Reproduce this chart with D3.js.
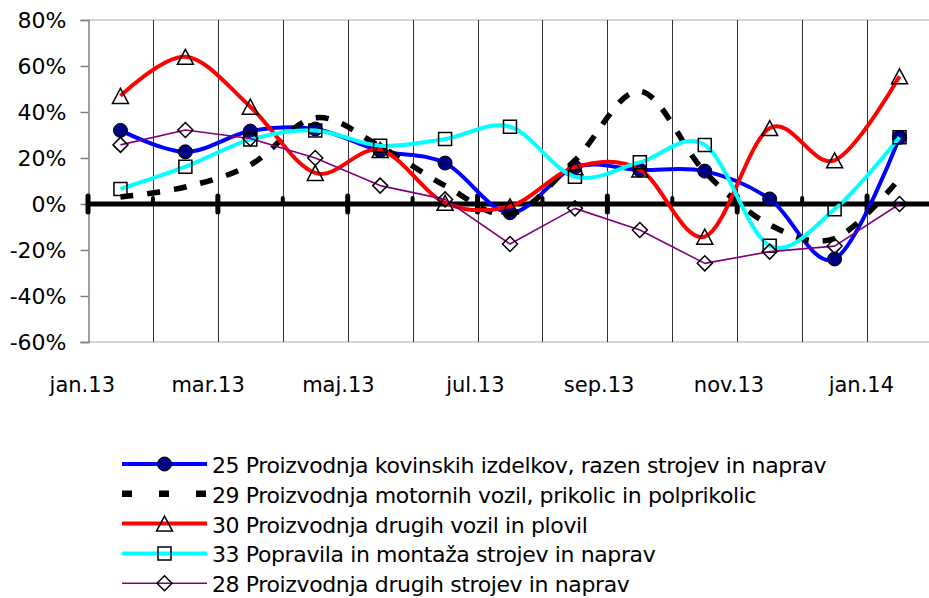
<!DOCTYPE html>
<html lang="sl">
<head>
<meta charset="UTF-8">
<title>Proizvodnja - rast</title>
<script src="https://cdn.jsdelivr.net/npm/d3@7"></script>
<style>
  body { margin: 0; background: #fff; }
  svg { display: block; font-family: "DejaVu Sans", Verdana, sans-serif; }
</style>
</head>
<body>
<script>
// months on the category axis
const months = ['jan.13', 'feb.13', 'mar.13', 'apr.13', 'maj.13', 'jun.13', 'jul.13',
    'avg.13', 'sep.13', 'okt.13', 'nov.13', 'dec.13', 'jan.14']
const monthLabels = ['jan.13', 'mar.13', 'maj.13', 'jul.13', 'sep.13', 'nov.13', 'jan.14']
const yTicks = [-60, -40, -20, 0, 20, 40, 60, 80]

// values in %
const s25 = [32, 22.7, 31.7, 32.6, 23.2, 17.8, -3.8, 16, 14.8, 14.3, 2.2, -23.9, 29]
const s29 = [3, 7.4, 17, 37.5, 25, 8, -4.5, 19, 49, 14, -9, -15, 11]
const s30 = [47, 64, 42.3, 13.5, 23.5, 0.5, -1, 16, 15, -14.2, 33, 19, 55.5]
const s33 = [6.5, 16.2, 28, 32, 25.3, 28.3, 33.6, 11.9, 18.1, 25.7, -18.1, -2.3, 29]
const s28 = [25.7, 32.2, 28.5, 20, 8, 2, -17.4, -1.9, -11.3, -25.8, -20.7, -18.3, 0]

const seriesNames = [
    '25 Proizvodnja kovinskih izdelkov, razen strojev in naprav',
    '29 Proizvodnja motornih vozil, prikolic in polprikolic',
    '30 Proizvodnja drugih vozil in plovil',
    '33 Popravila in montaža strojev in naprav',
    '28 Proizvodnja drugih strojev in naprav'
]

const width = 929
const height = 598

const series = [
    { name: seriesNames[0], values: s25, color: '#0000ff', w: 4, smooth: true, marker: 'circle' },
    { name: seriesNames[1], values: s29, color: '#000000', w: 5.5, smooth: true, dash: '13,14', legendDash: '10,27' },
    { name: seriesNames[2], values: s30, color: '#ff0000', w: 4, smooth: true, marker: 'triangle' },
    { name: seriesNames[3], values: s33, color: '#00ffff', w: 4, smooth: true, marker: 'square' },
    { name: seriesNames[4], values: s28, color: '#800080', w: 1.6, smooth: false, marker: 'diamond' }
]

const svg = d3.select('body').append('svg')
    .attr('width', width)
    .attr('height', height)

const x = d3.scaleBand()
    .domain(months)
    .range([88, 932])

const y = d3.scaleLinear()
    .domain([-60, 80])
    .range([342, 20])

// plot frame (top and bottom)
svg.append('line')
    .attr('x1', 88).attr('x2', width)
    .attr('y1', y(80)).attr('y2', y(80))
    .attr('stroke', '#c8c8c8').attr('stroke-width', 1.5)
svg.append('line')
    .attr('x1', 88).attr('x2', width)
    .attr('y1', y(-60)).attr('y2', y(-60))
    .attr('stroke', '#c8c8c8').attr('stroke-width', 1.5)

// vertical grid lines between months
svg.append('g')
    .selectAll('line')
    .data(months.slice(1))
    .enter()
    .append('line')
    .attr('x1', d => Math.round(x(d)) + 0.5)
    .attr('x2', d => Math.round(x(d)) + 0.5)
    .attr('y1', y(80))
    .attr('y2', y(-60))
    .attr('stroke', '#303030')
    .attr('stroke-width', 1)

// y axis
const yAxis = d3.axisLeft(y)
    .tickValues(yTicks)
    .tickFormat(d => d + '%')
    .tickSize(8)
    .tickPadding(14)

const yG = svg.append('g')
    .attr('transform', 'translate(88.5,0)')
    .call(yAxis)
yG.select('.domain').attr('stroke', '#808080').attr('stroke-width', 1.5)
yG.selectAll('.tick line').attr('stroke', '#808080').attr('stroke-width', 1.5)
yG.selectAll('.tick text')
    .attr('font-size', 22)
    .attr('font-family', '"DejaVu Sans", Verdana, sans-serif')
    .attr('fill', '#000')
    .attr('dy', '0.36em')

// zero line with tick marks
svg.append('line')
    .attr('x1', 88).attr('x2', width)
    .attr('y1', y(0)).attr('y2', y(0))
    .attr('stroke', '#000').attr('stroke-width', 5)

svg.append('g')
    .selectAll('line')
    .data(months)
    .enter()
    .append('line')
    .attr('x1', d => x(d))
    .attr('x2', d => x(d))
    .attr('y1', (d, i) => i % 2 === 0 ? y(0) - 8 : y(0) - 6)
    .attr('y2', (d, i) => i % 2 === 0 ? y(0) + 8 : y(0))
    .attr('stroke', '#000')
    .attr('stroke-width', (d, i) => i % 2 === 0 ? 5 : 4)
    .attr('stroke-linecap', 'round')

// month labels sit on every second grid line
svg.append('g')
    .selectAll('text')
    .data(monthLabels)
    .enter()
    .append('text')
    .attr('x', d => x(d) + 27)
    .attr('y', 392)
    .attr('text-anchor', 'end')
    .attr('font-size', 21)
    .text(d => d)

const cx = (d, i) => x(months[i]) + x.bandwidth() / 2

const markerPath = {
    triangle: 'M0,-7.5L8,7.5L-8,7.5Z',
    square: 'M-6.5,-6.5H6.5V6.5H-6.5Z',
    diamond: 'M0,-7.5L7.5,0L0,7.5L-7.5,0Z'
}

function drawMarker(g, type, px, py) {
    if (type === 'circle') {
        g.append('circle')
            .attr('cx', px).attr('cy', py).attr('r', 7)
            .attr('fill', '#000080').attr('stroke', '#000').attr('stroke-width', 1)
    } else {
        g.append('path')
            .attr('d', markerPath[type])
            .attr('transform', `translate(${px},${py})`)
            .attr('fill', 'none').attr('stroke', '#000').attr('stroke-width', 1.5)
    }
}

series.forEach(s => {
    const line = d3.line()
        .x(cx)
        .y(d => y(d))
        .curve(s.smooth ? d3.curveCardinal.tension(0) : d3.curveLinear)

    const g = svg.append('g')
    g.append('path')
        .datum(s.values)
        .attr('d', line)
        .attr('fill', 'none')
        .attr('stroke', s.color)
        .attr('stroke-width', s.w)
        .attr('stroke-dasharray', s.dash || null)
        .attr('stroke-linejoin', 'round')

    if (s.marker) {
        s.values.forEach((v, i) => drawMarker(g, s.marker, cx(v, i), y(v)))
    }
})

// legend
const legend = svg.append('g')
series.forEach((s, i) => {
    const ly = 464 + i * 29.8
    legend.append('line')
        .attr('x1', 122).attr('x2', 207)
        .attr('y1', ly).attr('y2', ly)
        .attr('stroke', s.color)
        .attr('stroke-width', s.legendDash ? 6.5 : s.w)
        .attr('stroke-dasharray', s.legendDash || null)
    if (s.marker) drawMarker(legend, s.marker, 164.5, ly)
    legend.append('text')
        .attr('x', 212)
        .attr('y', ly + 9)
        .attr('font-size', 22)
        .attr('letter-spacing', '-0.38px')
        .text(s.name)
})
</script>
</body>
</html>
